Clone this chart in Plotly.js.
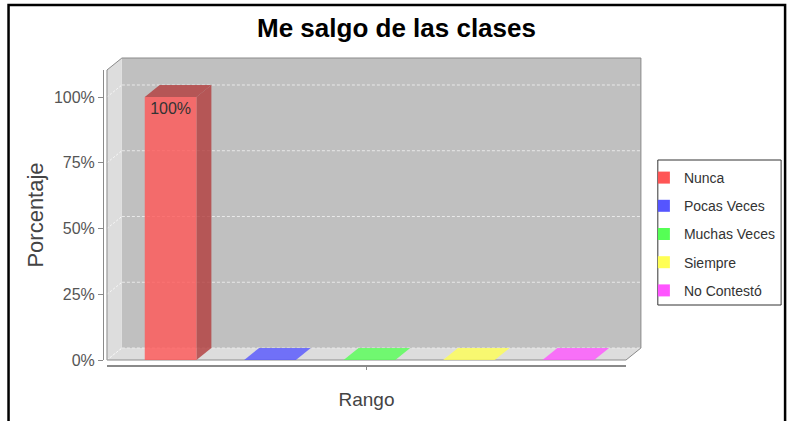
<!DOCTYPE html>
<html>
<head>
<meta charset="utf-8">
<script src="https://cdn.plot.ly/plotly-3.0.1.min.js"></script>
<style>
  html, body { margin: 0; padding: 0; background: #ffffff; }
  #chart { width: 793px; height: 421px; }
</style>
</head>
<body>
<div id="chart"></div>
<script>
// ---- data ----
const categories = ['Nunca', 'Pocas Veces', 'Muchas Veces', 'Siempre', 'No Contestó'];
const values = [100, 0, 0, 0, 0];
const seriesColors = ['#FF5555', '#5555FF', '#55FF55', '#FFFF55', '#FF55FF'];
const yTickVals = [0, 25, 50, 75, 100];
const yTickText = ['0%', '25%', '50%', '75%', '100%'];
const chartTitle = 'Me salgo de las clases';
const xTitle = 'Rango';
const yTitle = 'Porcentaje';

// ---- geometry (style) ----
const W = 793, H = 421;
const M = { l: 103, r: 164, t: 70, b: 55 };
const PW = W - M.l - M.r, PH = H - M.t - M.b;
const xRange = [-0.64, 4.58];
const yRange = [0, 110.27];
const barW = 0.52;
const depthX = 0.15;   // 3D depth in x units (15px)
const depthY = 4.563;  // 3D depth in y units (12px)
const px = v => (v - M.l) / PW;        // pixel -> paper x
const py = v => (H - M.b - v) / PH;    // pixel -> paper y
// plot-area corners (pixels)
const fx0 = 107, fx1 = 629, fy0 = 360, fy1 = 70, dxp = 15, dyp = 12;

function darker(hex) {
  const n = parseInt(hex.slice(1), 16);
  const r = Math.floor(((n >> 16) & 255) * 0.7), g = Math.floor(((n >> 8) & 255) * 0.7), b = Math.floor((n & 255) * 0.7);
  return 'rgb(' + r + ',' + g + ',' + b + ')';
}
function ppath(pts) {
  return 'M' + pts.map(p => px(p[0]) + ',' + py(p[1])).join('L') + 'Z';
}

const FONT = 'Liberation Sans, Arial, sans-serif';

// ---- traces ----
const traces = categories.map((name, i) => ({
  type: 'bar',
  x: [i],
  y: [values[i]],
  name: name,
  legendgroup: name,
  width: [barW],
  marker: { color: seriesColors[i], opacity: 0.8, line: { width: 0 } },
  text: [values[i] > 0 ? values[i] + '%' : ''],
  textposition: 'inside',
  insidetextanchor: 'end',
  insidetextfont: { family: FONT, size: 16, color: '#333333' },
  hoverinfo: 'name+y'
}));

// ---- shapes ----
const shapes = [];
// back wall
shapes.push({ type: 'path', xref: 'paper', yref: 'paper', layer: 'below',
  path: ppath([[fx0 + dxp, fy0 - dyp], [fx1 + dxp, fy0 - dyp], [fx1 + dxp, fy1 - dyp], [fx0 + dxp, fy1 - dyp]]),
  fillcolor: '#C0C0C0', line: { width: 0 } });
// left wall
shapes.push({ type: 'path', xref: 'paper', yref: 'paper', layer: 'below',
  path: ppath([[fx0, fy0], [fx0, fy1], [fx0 + dxp, fy1 - dyp], [fx0 + dxp, fy0 - dyp]]),
  fillcolor: '#DDDDDD', line: { width: 0 } });
// floor
shapes.push({ type: 'path', xref: 'paper', yref: 'paper', layer: 'below',
  path: ppath([[fx0, fy0], [fx1, fy0], [fx1 + dxp, fy0 - dyp], [fx0 + dxp, fy0 - dyp]]),
  fillcolor: '#DDDDDD', line: { width: 0 } });
// grid lines on the back wall and left wall
yTickVals.forEach(t => {
  shapes.push({ type: 'line', xref: 'paper', yref: 'y', layer: 'below',
    x0: px(fx0 + dxp), x1: px(fx1 + dxp), y0: t + depthY, y1: t + depthY,
    line: { color: 'rgba(240,240,240,0.85)', width: 1, dash: '3px,2px' } });
  shapes.push({ type: 'line', xref: 'paper', yref: 'y', layer: 'below',
    x0: px(fx0), x1: px(fx0 + dxp), y0: t, y1: t + depthY,
    line: { color: 'rgba(255,255,255,0.8)', width: 1, dash: '2px,2px' } });
});
// outline of the 3D plot region
shapes.push({ type: 'path', xref: 'paper', yref: 'paper', layer: 'below',
  path: ppath([[fx0, fy0], [fx0, fy1], [fx0 + dxp, fy1 - dyp], [fx1 + dxp, fy1 - dyp], [fx1 + dxp, fy0 - dyp], [fx1, fy0]]),
  fillcolor: 'rgba(0,0,0,0)', line: { color: '#8A8A8A', width: 1 } });
// 3D faces of the bars, from the data through the axes
values.forEach((v, i) => {
  const l = i - barW / 2, r = i + barW / 2;
  if (v > 0) {
    shapes.push({ type: 'path', xref: 'x', yref: 'y', layer: 'below',
      path: 'M' + r + ',0L' + (r + depthX) + ',' + depthY + 'L' + (r + depthX) + ',' + (v + depthY) + 'L' + r + ',' + v + 'Z',
      fillcolor: darker(seriesColors[i]), opacity: 0.8, line: { width: 0 } });
  }
  shapes.push({ type: 'path', xref: 'x', yref: 'y', layer: 'below',
    path: 'M' + l + ',' + v + 'L' + r + ',' + v + 'L' + (r + depthX) + ',' + (v + depthY) + 'L' + (l + depthX) + ',' + (v + depthY) + 'Z',
    fillcolor: v > 0 ? darker(seriesColors[i]) : seriesColors[i], opacity: 0.8, line: { width: 0 } });
});
// legend box
shapes.push({ type: 'rect', xref: 'paper', yref: 'paper', layer: 'above',
  x0: px(661), x1: px(785), y0: py(305), y1: py(160),
  fillcolor: 'rgba(0,0,0,0)', line: { color: '#333333', width: 1 } });
// outer border
shapes.push({ type: 'rect', xref: 'paper', yref: 'paper', layer: 'above',
  x0: px(8), x1: px(789), y0: py(430), y1: py(5),
  fillcolor: 'rgba(0,0,0,0)', line: { color: '#000000', width: 2.5 } });

const layout = {
  width: W, height: H,
  margin: M,
  paper_bgcolor: '#FFFFFF',
  plot_bgcolor: 'rgba(0,0,0,0)',
  barmode: 'overlay',
  showlegend: true,
  title: {
    text: chartTitle,
    font: { family: FONT, size: 26, color: '#000000', weight: 'bold' },
    x: 0.5, xref: 'container', xanchor: 'center',
    y: 1 - 28 / H, yref: 'container', yanchor: 'middle'
  },
  xaxis: {
    range: xRange, domain: [(fx0 - M.l) / PW, 1],
    anchor: 'free', position: 0,
    showline: true, linecolor: '#8A8A8A', linewidth: 2,
    showgrid: false, zeroline: false,
    tickvals: [(xRange[0] + xRange[1]) / 2], ticktext: [''],
    ticks: 'outside', ticklen: 3, tickcolor: '#8A8A8A',
    fixedrange: true,
    title: { text: xTitle, font: { family: FONT, size: 19, color: '#444444' }, standoff: 20 }
  },
  yaxis: {
    range: yRange, domain: [(H - M.b - fy0) / PH, 1],
    anchor: 'free', position: 0,
    showline: true, linecolor: '#8A8A8A', linewidth: 1,
    showgrid: false, zeroline: false,
    tickmode: 'array', tickvals: yTickVals, ticktext: yTickText,
    ticks: 'outside', ticklen: 5, tickcolor: '#8A8A8A',
    tickfont: { family: FONT, size: 16, color: '#555555' },
    fixedrange: true,
    title: { text: yTitle, font: { family: FONT, size: 22, color: '#444444' }, standoff: 3 }
  },
  legend: {
    x: px(647), xanchor: 'left', y: py(162), yanchor: 'top',
    xref: 'paper', yref: 'paper',
    bgcolor: 'rgba(0,0,0,0)', borderwidth: 0,
    font: { family: FONT, size: 14, color: '#333333' },
    tracegroupgap: 7,
    traceorder: 'grouped'
  },
  shapes: shapes
};

Plotly.newPlot('chart', traces, layout, { displayModeBar: false, staticPlot: true });
</script>
</body>
</html>
